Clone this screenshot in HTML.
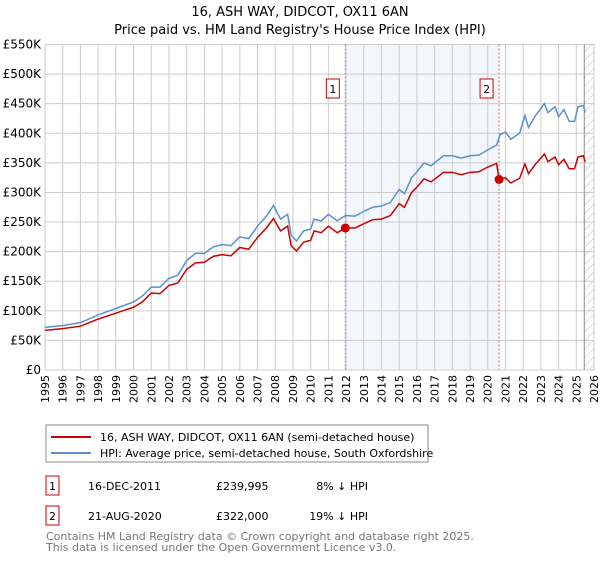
<!DOCTYPE html>
<html><head><meta charset="utf-8"><style>
body{margin:0;background:#fff;font-family:"Liberation Sans","DejaVu Sans",sans-serif;}
svg text{font-family:"DejaVu Sans","Liberation Sans",sans-serif;}
</style></head><body>
<svg id="c" width="600" height="560" viewBox="0 0 600 560">
<defs><pattern id="hatch" width="6" height="6" patternUnits="userSpaceOnUse" patternTransform="rotate(45)"><line x1="0" y1="0" x2="0" y2="6" stroke="#bbb" stroke-width="1"/></pattern></defs>
<text x="300" y="16" text-anchor="middle" font-size="13">16, ASH WAY, DIDCOT, OX11 6AN</text>
<text x="300" y="34" text-anchor="middle" font-size="13">Price paid vs. HM Land Registry's House Price Index (HPI)</text>
<g id="plot"></g>
<rect x="46" y="425" width="382" height="37" fill="#fff" stroke="#888"/>
<line x1="51" y1="437" x2="91" y2="437" stroke="#cc0000" stroke-width="2"/>
<text x="100" y="441" font-size="11">16, ASH WAY, DIDCOT, OX11 6AN (semi-detached house)</text>
<line x1="51" y1="453" x2="91" y2="453" stroke="#5b8fd0" stroke-width="2"/>
<text x="100" y="457" font-size="11">HPI: Average price, semi-detached house, South Oxfordshire</text>
<g>
<rect x="46" y="476" width="13" height="19" fill="#fff" stroke="#cc0000"/>
<text x="52.5" y="490" text-anchor="middle" font-size="11">1</text>
<text x="88" y="490" font-size="11">16-DEC-2011</text>
<text x="216" y="490" font-size="11">£239,995</text>
<text x="368" y="490" text-anchor="end" font-size="11">8% ↓ HPI</text></g>
<g>
<rect x="46" y="506" width="13" height="19" fill="#fff" stroke="#cc0000"/>
<text x="52.5" y="520" text-anchor="middle" font-size="11">2</text>
<text x="88" y="520" font-size="11">21-AUG-2020</text>
<text x="216" y="520" font-size="11">£322,000</text>
<text x="368" y="520" text-anchor="end" font-size="11">19% ↓ HPI</text></g>
<text x="46" y="540" font-size="11" fill="#777">Contains HM Land Registry data © Crown copyright and database right 2025.</text>
<text x="46" y="551" font-size="11" fill="#777">This data is licensed under the Open Government Licence v3.0.</text>
</svg>
<script>
const yearTicks=[1995,1996,1997,1998,1999,2000,2001,2002,2003,2004,2005,2006,2007,2008,2009,2010,2011,2012,2013,2014,2015,2016,2017,2018,2019,2020,2021,2022,2023,2024,2025,2026];
const valueTicks=[0,50,100,150,200,250,300,350,400,450,500,550];
const dates=[1995,1996,1997,1998,1999,2000,2000.5,2001,2001.5,2002,2002.5,2003,2003.5,2004,2004.5,2005,2005.5,2006,2006.5,2007,2007.5,2007.9,2008.3,2008.7,2008.9,2009.2,2009.6,2010,2010.2,2010.6,2011,2011.5,2011.96,2012.5,2013,2013.5,2014,2014.5,2015,2015.3,2015.7,2016,2016.4,2016.8,2017.2,2017.5,2018,2018.5,2019,2019.5,2020,2020.5,2020.7,2021,2021.3,2021.8,2022.1,2022.3,2022.7,2023.2,2023.4,2023.8,2024,2024.3,2024.6,2024.9,2025.1,2025.4,2025.5];
const hpi=[72,75,80,93,104,115,125,140,140,155,160,185,197,197,208,212,210,225,222,243,260,278,255,263,228,218,235,238,255,252,263,252,261,260,268,275,277,283,305,298,325,335,350,345,355,362,362,358,362,363,372,380,398,402,390,400,430,410,430,450,435,445,428,440,420,420,445,447,435];
const priceDates=[1995,1996,1997,1998,1999,2000,2000.5,2001,2001.5,2002,2002.5,2003,2003.5,2004,2004.5,2005,2005.5,2006,2006.5,2007,2007.5,2007.9,2008.3,2008.7,2008.9,2009.2,2009.6,2010,2010.2,2010.6,2011,2011.5,2011.96,2012.5,2013,2013.5,2014,2014.5,2015,2015.3,2015.7,2016,2016.4,2016.8,2017.2,2017.5,2018,2018.5,2019,2019.5,2020,2020.5,2020.64,2021,2021.3,2021.8,2022.1,2022.3,2022.7,2023.2,2023.4,2023.8,2024,2024.3,2024.6,2024.9,2025.1,2025.4,2025.5];
const price=[67,70,74,86,96,106,115,130,129,143,147,170,181,182,192,195,193,207,204,224,240,256,235,243,210,201,216,219,235,232,243,232,240,240,247,254,255,261,281,275,300,309,323,318,327,334,334,330,334,335,343,349,322,325,316,324,348,332,348,365,352,360,347,356,340,340,360,362,352];
const saleDates=[2011.96,2020.64];
const salePrices=[239.995,322];
const saleLabels=["1","2"];
const X0=45,X1=594,Y0=370,Y1=44.5;
const x=d=>X0+(d-1995)/(2026-1995)*(X1-X0);
const y=v=>Y0-v/550*(Y0-Y1);
const NS="http://www.w3.org/2000/svg";
const g=document.getElementById('plot');
function mk(t,a,p){const e=document.createElementNS(NS,t);for(const k in a)e.setAttribute(k,a[k]);(p||g).appendChild(e);return e;}
let e;
e=mk('rect',{x:x(saleDates[0]),y:Y1,width:x(saleDates[1])-x(saleDates[0]),height:Y0-Y1,fill:'#eef3fc',opacity:0.7});


e=mk('rect',{x:x(2025.45),y:Y1,width:X1-x(2025.45),height:Y0-Y1,fill:'url(#hatch)'});


yearTicks.forEach(yr=>{
 e=mk('line',{x1:x(yr),x2:x(yr),y1:Y1,y2:Y0,stroke:'#ccc'});
 
 
 e=mk('text',{x:0,y:0,'font-size':11,'text-anchor':'end',transform:`translate(${x(yr)+4},${Y0+5}) rotate(-90)`});
 e.textContent=yr;
 
 
});
valueTicks.forEach(v=>{
 e=mk('line',{x1:X0,x2:X1,y1:y(v),y2:y(v),stroke:'#ccc'});
 
 
 e=mk('text',{x:X0-4,y:y(v)+4,'font-size':12,'text-anchor':'end'});
 e.textContent=v===0?'£0':'£'+v+'K';
 
 
});
e=mk('line',{x1:x(2025.45),x2:x(2025.45),y1:Y1,y2:Y0,stroke:'#888'});


saleDates.forEach((d,i)=>{
 e=mk('line',{x1:x(d),x2:x(d),y1:Y1,y2:Y0,stroke:'#e06060','stroke-dasharray':'2,2'});
 
 
});
e=mk('polyline',{points:dates.map((d,i)=>x(d)+','+y(hpi[i])).join(' '),fill:'none',stroke:'#5b8fd0','stroke-width':1.5});


e=mk('polyline',{points:priceDates.map((d,i)=>x(d)+','+y(price[i])).join(' '),fill:'none',stroke:'#cc0000','stroke-width':1.5});


saleDates.forEach((d,i)=>{
 e=mk('circle',{cx:x(d),cy:y(salePrices[i]),r:4.5,fill:'#cc0000'});
 
 
 e=mk('rect',{x:x(d)-19,y:79,width:13,height:19,fill:'#fff',stroke:'#cc0000'});
 
 
 e=mk('text',{x:x(d)-12.5,y:93,'font-size':11,'text-anchor':'middle'});
 e.textContent=saleLabels[i];
 
 
});
</script>
</body></html>
